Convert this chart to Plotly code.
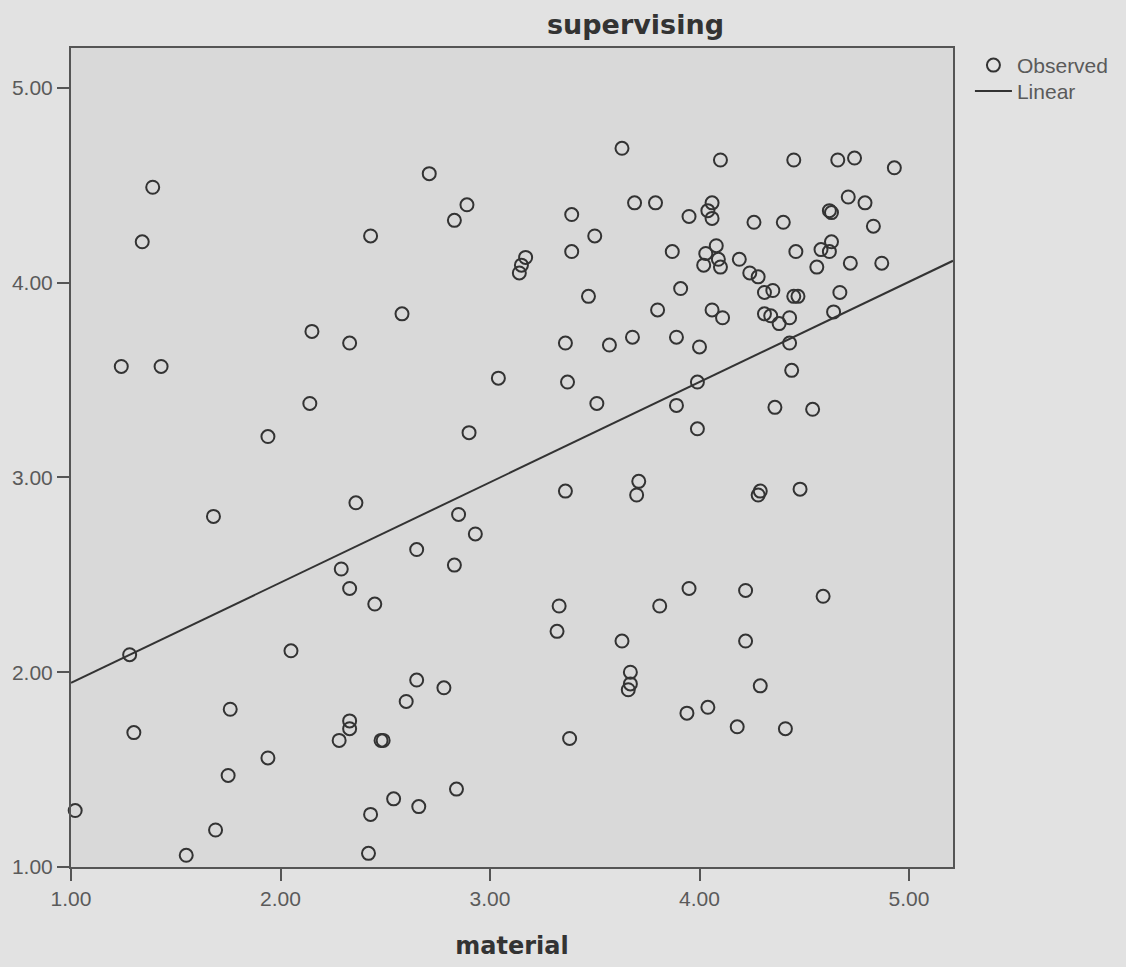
import plotly.graph_objects as go

# Observed values (material, supervising)
material = [
    1.39, 1.34, 2.43, 2.71, 2.89, 2.83, 3.39, 3.50, 3.39, 3.63,
    3.69, 3.79, 3.95, 4.06, 4.04, 4.06, 4.10, 4.45, 4.26, 4.40,
    4.46, 3.87, 4.03, 4.08, 4.02, 4.09, 4.10, 4.19, 4.24, 4.28,
    4.31, 4.35, 4.45, 4.47, 3.14, 3.15, 3.17, 3.91, 3.47, 4.66,
    4.74, 4.93, 4.71, 4.79, 4.62, 4.63, 4.83, 4.63, 4.58, 4.62,
    4.56, 4.72, 4.87, 4.67, 4.64, 4.54, 4.48, 4.59, 1.24, 1.43,
    2.15, 2.33, 2.14, 1.94, 1.68, 2.36, 2.29, 2.33, 2.58, 3.80,
    4.06, 4.11, 4.31, 4.34, 4.38, 4.43, 3.36, 3.57, 3.68, 3.89,
    4.00, 4.43, 4.44, 4.36, 3.04, 3.37, 3.51, 3.89, 3.99, 3.99,
    2.90, 3.36, 3.71, 3.70, 4.29, 4.28, 2.85, 2.93, 2.65, 2.83,
    3.95, 4.22, 1.28, 2.05, 2.45, 1.76, 1.30, 1.94, 1.75, 1.02,
    1.69, 1.55, 2.42, 2.43, 2.54, 2.33, 2.33, 2.28, 2.48, 2.49,
    2.60, 3.33, 3.32, 3.81, 3.63, 4.22, 3.67, 3.67, 3.66, 4.29,
    4.04, 3.94, 4.18, 4.41, 3.38, 2.65, 2.78, 2.84, 2.66,
]
supervising = [
    4.49, 4.21, 4.24, 4.56, 4.40, 4.32, 4.35, 4.24, 4.16, 4.69,
    4.41, 4.41, 4.34, 4.41, 4.37, 4.33, 4.63, 4.63, 4.31, 4.31,
    4.16, 4.16, 4.15, 4.19, 4.09, 4.12, 4.08, 4.12, 4.05, 4.03,
    3.95, 3.96, 3.93, 3.93, 4.05, 4.09, 4.13, 3.97, 3.93, 4.63,
    4.64, 4.59, 4.44, 4.41, 4.37, 4.36, 4.29, 4.21, 4.17, 4.16,
    4.08, 4.10, 4.10, 3.95, 3.85, 3.35, 2.94, 2.39, 3.57, 3.57,
    3.75, 3.69, 3.38, 3.21, 2.80, 2.87, 2.53, 2.43, 3.84, 3.86,
    3.86, 3.82, 3.84, 3.83, 3.79, 3.82, 3.69, 3.68, 3.72, 3.72,
    3.67, 3.69, 3.55, 3.36, 3.51, 3.49, 3.38, 3.37, 3.49, 3.25,
    3.23, 2.93, 2.98, 2.91, 2.93, 2.91, 2.81, 2.71, 2.63, 2.55,
    2.43, 2.42, 2.09, 2.11, 2.35, 1.81, 1.69, 1.56, 1.47, 1.29,
    1.19, 1.06, 1.07, 1.27, 1.35, 1.75, 1.71, 1.65, 1.65, 1.65,
    1.85, 2.34, 2.21, 2.34, 2.16, 2.16, 2.00, 1.94, 1.91, 1.93,
    1.82, 1.79, 1.72, 1.71, 1.66, 1.96, 1.92, 1.40, 1.31,
]

# Linear fit
fit_intercept = 1.431
fit_slope = 0.5147

x_range = [1.0, 5.21]
y_range = [1.0, 5.205]
tick_vals = [1, 2, 3, 4, 5]
tick_text = ["1.00", "2.00", "3.00", "4.00", "5.00"]

fit_x = x_range
fit_y = [fit_intercept + fit_slope * v for v in fit_x]

ink = "#333333"
label_gray = "#5a5a5a"
page_bg = "#e2e2e2"

fig = go.Figure()
fig.add_trace(go.Scatter(
    x=material, y=supervising, mode="markers", name="Observed",
    marker=dict(symbol="circle-open", size=13, color=ink,
                line=dict(width=2, color=ink)),
    cliponaxis=False, legend="legend",
))
fig.add_trace(go.Scatter(
    x=fit_x, y=fit_y, mode="lines", name="Linear",
    line=dict(color=ink, width=2), legend="legend2",
))

legend_common = dict(xanchor="left", yanchor="top",
                     bgcolor="rgba(0,0,0,0)", borderwidth=0,
                     font=dict(size=21, color=label_gray),
                     itemwidth=37, tracegroupgap=0)

fig.update_layout(
    width=1126, height=967,
    margin=dict(l=67, r=173, t=48, b=97),
    paper_bgcolor=page_bg,
    plot_bgcolor="#d9d9d9",
    font=dict(family="Liberation Sans, Arial, sans-serif", size=21, color=label_gray),
    showlegend=True,
    legend=dict(x=1.0192, y=1.0037, **legend_common),
    legend2=dict(x=1.0192, y=0.9720, **legend_common),
    annotations=[dict(
        text="supervising", x=0.64, y=1.0, xref="paper", yref="paper",
        xanchor="center", yanchor="bottom", yshift=6, showarrow=False,
        font=dict(family="DejaVu Sans, sans-serif", size=27, color="#333333", weight="bold"),
    )],
)

fig.update_xaxes(
    range=x_range, tickvals=tick_vals, ticktext=tick_text,
    showgrid=False, zeroline=False,
    showline=True, mirror=True, linecolor="#555555", linewidth=2,
    ticks="outside", ticklen=12, tickwidth=2, tickcolor="#555555",
    tickfont=dict(size=21, color=label_gray),
    title=dict(text="material", standoff=28,
               font=dict(family="DejaVu Sans, sans-serif", size=24, color="#333333", weight="bold")),
)
fig.update_yaxes(
    range=y_range, tickvals=tick_vals, ticktext=tick_text,
    showgrid=False, zeroline=False,
    showline=True, mirror=True, linecolor="#555555", linewidth=2,
    ticks="outside", ticklen=12, tickwidth=2, tickcolor="#555555",
    tickfont=dict(size=21, color=label_gray),
)

fig.write_html(
    "out.html",
    config={"displayModeBar": False},
    post_script=(
        "document.body.style.margin='0';"
        "document.body.style.background='" + page_bg + "';"
    ),
)
